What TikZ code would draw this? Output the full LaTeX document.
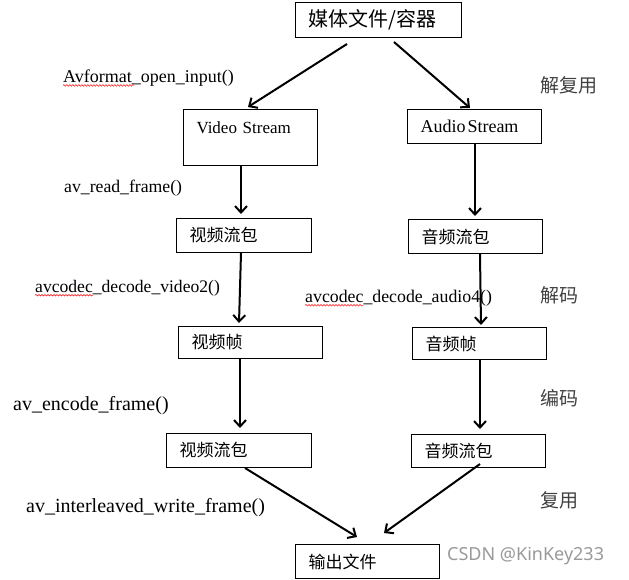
\documentclass[tikz,border=0pt]{standalone}
\usepackage{fontspec}
\setmainfont{Liberation Serif}
\newfontfamily\cjk{Noto Sans CJK SC}
\newfontfamily\wmfont{Noto Sans}
\usetikzlibrary{arrows.meta, calc, decorations.pathmorphing}

\begin{document}
\begin{tikzpicture}[x=1pt, y=-1pt, >={Straight Barb[length=6.5pt, width=12pt]},
  box/.style={draw, line width=1pt, anchor=north west, inner xsep=13pt,
              inner ysep=0pt, align=left, minimum height=34pt},
  zh/.style={font=\fontsize{17}{17}\selectfont\cjk},
  arr/.style={->, line width=2pt},
  lbl/.style={anchor=west, inner sep=0pt},
  side/.style={anchor=west, inner sep=0pt, black!75,
               font=\fontsize{19}{19}\selectfont\cjk},
  wavy/.style={red, line width=0.5pt, decorate,
               decoration={snake, amplitude=0.8pt, segment length=3pt}}]
  \useasboundingbox (0,0) rectangle (629,579);

  % Boxes
  \node[box, text width=140pt, minimum height=35pt,
        font=\fontsize{20}{20}\selectfont\cjk] (src) at (295,2) {媒体文件/容器};
  \node[box, text width=108pt, text height=24pt, text depth=32pt,
        font=\fontsize{17}{17}\selectfont] (vs) at (183,109) {Video Stream};
  \node[box, text width=108pt, font=\fontsize{18}{18}\selectfont]
        (as) at (407,109) {Audio\hspace{2pt}Stream};
  \node[box, zh, text width=109pt] (vp1) at (176,218) {视频流包};
  \node[box, zh, text width=108pt] (ap1) at (408,219) {音频流包};
  \node[box, zh, text width=118pt, minimum height=32pt] (vf) at (178,326) {视频帧};
  \node[box, zh, text width=108pt, minimum height=32pt] (af) at (412,327) {音频帧};
  \node[box, zh, text width=119pt] (vp2) at (166,433) {视频流包};
  \node[box, zh, text width=108pt, minimum height=33pt] (ap2) at (411,434) {音频流包};
  \node[box, zh, text width=118pt] (out) at (295,544) {输出文件};

  % Arrows
  \draw[arr] ($(src.south west)+(52,6)$) -- ($(vs.north west)+(65,-2)$);
  \draw[arr] ($(src.south west)+(99,4)$) -- ($(as.north west)+(63,-1)$);
  \draw[arr] ($(vs.south west)+(58,0)$) -- ($(vp1.north west)+(65,-4)$);
  \draw[arr] ($(as.south west)+(68,0)$) -- ($(ap1.north west)+(67,-3)$);
  \draw[arr] ($(vp1.south west)+(65,0)$) -- ($(vf.north west)+(61,-3)$);
  \draw[arr] ($(ap1.south west)+(72,0)$) -- ($(af.north west)+(69,-2)$);
  \draw[arr] ($(vf.south west)+(62,0)$) -- ($(vp2.north west)+(74,-5)$);
  \draw[arr] ($(af.south west)+(68,0)$) -- ($(ap2.north west)+(69,-5)$);
  \draw[arr] ($(vp2.south west)+(79,0)$) -- ($(out.north west)+(62,-7)$);
  \draw[arr] ($(ap2.south west)+(69,-4)$) -- ($(out.north west)+(89,-11)$);

  % Function labels
  \node[lbl, font=\fontsize{18}{18}\selectfont] (lopen) at (63,78) {Avformat\_open\_input()};
  \node[lbl, font=\fontsize{17.7}{18}\selectfont] (lread) at (64,188) {av\_read\_frame()};
  \node[lbl, font=\fontsize{17.6}{18}\selectfont] (lvdec) at (35,288) {avcodec\_decode\_video2()};
  \node[lbl, font=\fontsize{17.8}{18}\selectfont] (ladec) at (305,298) {avcodec\_decode\_audio4()};
  \node[lbl, font=\fontsize{20}{20}\selectfont] (lenc) at (13,406) {av\_encode\_frame()};
  \node[lbl, font=\fontsize{20}{20}\selectfont] (lmux) at (26,508) {av\_interleaved\_write\_frame()};

  % Spell-check marks
  \draw[wavy] ($(lopen.base west)+(0,3)$) -- ++(71,0);
  \draw[wavy] ($(lvdec.base west)+(0,3)$) -- ++(58,0);
  \draw[wavy] ($(ladec.base west)+(0,3)$) -- ++(58,0);

  % Stage labels
  \node[side] (sdemux) at (540,85) {解复用};
  \node[side] (sdec) at (540,295) {解码};
  \node[side] (senc) at (540,398) {编码};
  \node[side] (smux) at (540,500) {复用};

  \node[lbl, black!40, font=\fontsize{18}{18}\selectfont\wmfont] (wm) at (447,556) {CSDN @KinKey233};
\end{tikzpicture}
\end{document}
